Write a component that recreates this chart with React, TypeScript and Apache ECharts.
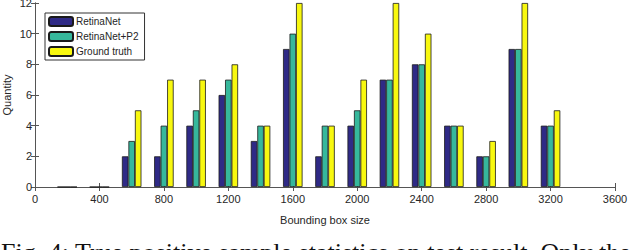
import React, { useEffect, useRef } from "react";
import * as echarts from "echarts";

const positions = [200, 400, 600, 800, 1000, 1200, 1400, 1600, 1800, 2000, 2200, 2400, 2600, 2800, 3000, 3200];
const retinaNet = [0, 0, 2, 2, 4, 6, 3, 9, 2, 4, 7, 8, 4, 2, 9, 4];
const retinaNetP2 = [0, 0, 3, 4, 5, 7, 4, 10, 4, 5, 7, 8, 4, 2, 9, 4];
const groundTruth = [0, 0, 5, 7, 7, 8, 4, 12, 4, 7, 12, 10, 4, 3, 12, 5];
const seriesNames = ["RetinaNet", "RetinaNet+P2", "Ground truth"];
const caption = "Fig. 4: True positive sample statistics on test result. Only the";

export default function App() {
  const ref = useRef<HTMLDivElement>(null);
  useEffect(() => {
    const chart = echarts.init(ref.current!, null, { renderer: "svg" });
    const font = "Liberation Sans, Arial, sans-serif";
    const axisColor = "#555555";
    const labelColor = "#262626";
    const colors = ["#2f2a86", "#36b89c", "#f8f80f"];
    const vals = [retinaNet, retinaNetP2, groundTruth];
    const fmt = (v: number) => String(v);
    chart.setOption({
      animation: false,
      grid: { left: 35, top: 3, right: 25, bottom: 63, outerBoundsMode: "none" },
      legend: {
        left: 45,
        top: 13,
        orient: "vertical",
        itemWidth: 24,
        itemHeight: 9,
        itemGap: 4,
        padding: [3, 6, 3, 3],
        borderColor: "#333",
        borderWidth: 1,
        backgroundColor: "#fff",
        textStyle: { fontSize: 10, color: labelColor, fontFamily: font, padding: [0, 0, 0, -2] },
        data: seriesNames,
      },
      xAxis: [
        {
          type: "value",
          min: 0,
          max: 3600,
          interval: 400,
          name: "Bounding box size",
          nameLocation: "middle",
          nameGap: 27,
          nameMoveOverlap: false,
          nameTextStyle: { fontSize: 11, color: labelColor, fontFamily: font },
          axisLine: { show: true, lineStyle: { color: axisColor, width: 1 } },
          axisTick: { show: true, inside: true, length: 4, lineStyle: { color: axisColor } },
          axisLabel: { fontSize: 11, color: labelColor, fontFamily: font, margin: 6, formatter: fmt },
          splitLine: { show: false },
        },
        {
          type: "value",
          position: "top",
          min: 0,
          max: 3600,
          interval: 400,
          axisLine: { show: true, lineStyle: { color: axisColor, width: 1 } },
          axisTick: { show: true, inside: true, length: 4, lineStyle: { color: axisColor } },
          axisLabel: { show: false },
          splitLine: { show: false },
        },
      ],
      yAxis: [
        {
          type: "value",
          min: 0,
          max: 12,
          interval: 2,
          name: "Quantity",
          nameLocation: "middle",
          nameGap: 23,
          nameMoveOverlap: false,
          nameTextStyle: { fontSize: 11, color: labelColor, fontFamily: font },
          axisLine: { show: true, lineStyle: { color: axisColor, width: 1 } },
          axisTick: { show: true, inside: true, length: 4, lineStyle: { color: axisColor } },
          axisLabel: { fontSize: 11, color: labelColor, fontFamily: font, margin: 3, formatter: fmt },
          splitLine: { show: false },
        },
        {
          type: "value",
          position: "right",
          min: 0,
          max: 12,
          interval: 2,
          axisLine: { show: true, lineStyle: { color: axisColor, width: 1 } },
          axisTick: { show: true, inside: true, length: 4, lineStyle: { color: axisColor } },
          axisLabel: { show: false },
          splitLine: { show: false },
        },
      ],
      series: seriesNames.map((name, i) => ({
        name,
        type: "bar",
        xAxisIndex: 0,
        yAxisIndex: 0,
        barWidth: 6.5,
        barGap: "0%",
        itemStyle: { color: colors[i], borderColor: "#1a1a1a", borderWidth: 0.8 },
        data: positions.map((p, j) => [p, vals[i][j]]),
      })),
      graphic: [
        {
          type: "text",
          left: 1,
          top: 239,
          style: {
            text: caption,
            fontSize: 26,
            fontFamily: "Liberation Serif, Times New Roman, serif",
            fill: "#111",
          },
        },
      ],
    });
    return () => chart.dispose();
  }, []);
  return <div ref={ref} style={{ width: 640, height: 250, position: "absolute", left: 0, top: 0 }} />;
}
